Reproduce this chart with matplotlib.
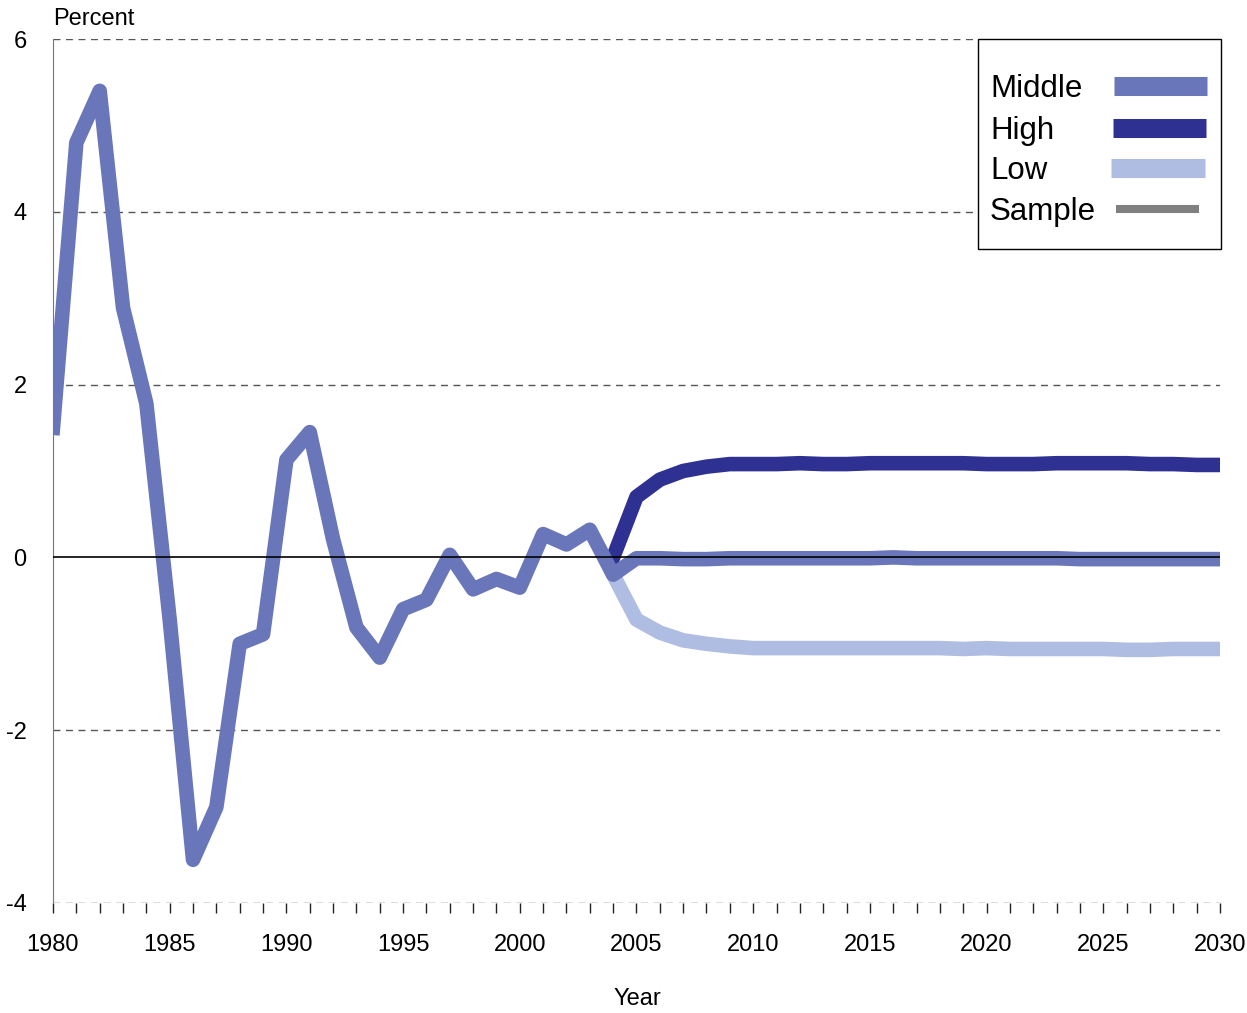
import numpy as np
import matplotlib.pyplot as plt
from matplotlib.lines import Line2D
from matplotlib.patches import Rectangle

plt.rcParams['font.family'] = ['Liberation Sans', 'DejaVu Sans']
plt.rcParams['axes.unicode_minus'] = False

# data
years_mid = list(range(1980, 2031))
middle = [1.50, 4.80, 5.40, 2.89, 1.78, -0.72, -3.50, -2.89, -1.00, -0.89,
          1.13, 1.45, 0.21, -0.81, -1.16, -0.60, -0.49, 0.03, -0.37, -0.25,
          -0.35, 0.27, 0.15, 0.32, -0.20, -0.01, -0.01, -0.02, -0.02, -0.01,
          -0.01, -0.01, -0.01, -0.01, -0.01, -0.01, 0.00, -0.01, -0.01, -0.01,
          -0.01, -0.01, -0.01, -0.01, -0.02, -0.02, -0.02, -0.02, -0.02, -0.02, -0.02]
years_proj = list(range(2004, 2031))
high = [0.00, 0.70, 0.90, 1.00, 1.05, 1.08, 1.08, 1.08, 1.09, 1.08,
        1.08, 1.09, 1.09, 1.09, 1.09, 1.09, 1.08, 1.08, 1.08, 1.09,
        1.09, 1.09, 1.09, 1.08, 1.08, 1.07, 1.07]
low = [-0.20, -0.72, -0.87, -0.96, -1.00, -1.03, -1.05, -1.05, -1.05, -1.05,
       -1.05, -1.05, -1.05, -1.05, -1.05, -1.06, -1.05, -1.06, -1.06, -1.06,
       -1.06, -1.06, -1.07, -1.07, -1.06, -1.06, -1.06]
legend_labels = ['Middle', 'High', 'Low', 'Sample']

c_mid = '#6976b9'
c_high = '#2e3192'
c_low = '#aebde1'
c_sample = '#808080'
legend_colors = [c_mid, c_high, c_low, c_sample]

fig = plt.figure(figsize=(12.47, 10.13), dpi=100)
ax = fig.add_axes([0.0425, 0.1086, 0.9358, 0.8529])

ax.plot(years_proj, low, color=c_low, lw=10.5, solid_joinstyle='round', zorder=2)
ax.plot(years_proj, high, color=c_high, lw=10.5, solid_joinstyle='round', zorder=3)
ax.plot(years_mid, middle, color=c_mid, lw=10.5, solid_joinstyle='round', zorder=4)

for v in [6, 4, 2, -2, -4]:
    ax.axhline(v, color='#555555', lw=1, ls=(0, (5, 4)), zorder=1)
ax.axhline(0, color='black', lw=1.2, zorder=5)

ax.set_xlim(1980, 2030)
ax.set_ylim(-4, 6)
ax.set_yticks([-4, -2, 0, 2, 4, 6])
ax.set_xticks(np.arange(1980, 2031, 5))
ax.set_xticks(np.arange(1980, 2031, 1), minor=True)
ax.tick_params(axis='x', which='both', direction='out', length=7.2, width=1,
               color='#222222', labelsize=17, pad=15)
ax.tick_params(axis='y', length=0, labelsize=17, pad=19)

for s in ['top', 'right', 'bottom']:
    ax.spines[s].set_visible(False)
ax.spines['left'].set_color('#777777')

fig.text(0.0425, 0.981, 'Percent', fontsize=17, ha='left', va='center')
fig.text(0.511, 0.0135, 'Year', fontsize=17, ha='center', va='center')

# legend box, labels left aligned with handles on the right
box = Rectangle((0.7926, 0.757), 0.2083, 0.243, transform=ax.transAxes,
                facecolor='white', edgecolor='black', lw=1, zorder=10, clip_on=False)
ax.add_patch(box)
rows_y = [0.9456, 0.897, 0.8507, 0.8032]
handle_w = [13.7, 13.7, 13.7, 5.8]
handle_x = [(0.909, 0.989), (0.908, 0.988), (0.907, 0.987), (0.911, 0.982)]
for lab, col, yy, w, hx in zip(legend_labels, legend_colors, rows_y, handle_w, handle_x):
    ax.text(0.803, yy - 0.0035, lab, transform=ax.transAxes, fontsize=22.5,
            ha='left', va='center', zorder=11)
    ax.add_line(Line2D(list(hx), [yy, yy], transform=ax.transAxes, color=col,
                       lw=w, solid_capstyle='butt', zorder=11, clip_on=False))

fig.savefig('out.png', dpi=100)
